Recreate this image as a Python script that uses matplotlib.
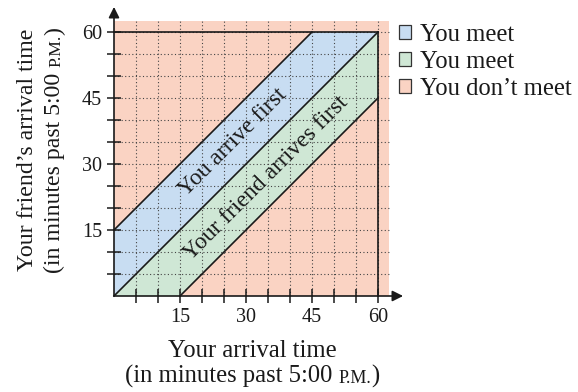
import matplotlib
matplotlib.use('Agg')
import matplotlib.pyplot as plt
from matplotlib.patches import Polygon, Patch, Rectangle

plt.rcParams['font.family'] = ['Liberation Serif', 'DejaVu Serif']

# ---- data ----
max_minutes = 60
wait_limit = 15
grid_step = 5
tick_labels = [15, 30, 45, 60]
legend_labels = ['You meet', 'You meet', 'You don\u2019t meet']
band_labels = ['You arrive first', 'Your friend arrives first']
band_colors = ['#C8DDF2', '#CFE7D5']
outside_color = '#FAD3C3'

W, H = 578, 392
fig = plt.figure(figsize=(W / 100, H / 100), dpi=100)
x0px, y0px, scale = 114, 296, 4.4
lo, hi = -2, 67
ax = fig.add_axes([(x0px + lo * scale) / W, (H - y0px + lo * scale) / H,
                   (hi - lo) * scale / W, (hi - lo) * scale / H])
ax.set_xlim(lo, hi)
ax.set_ylim(lo, hi)
for s in ax.spines.values():
    s.set_visible(False)
ax.patch.set_alpha(0)

ext = max_minutes + 2.6
# background (don't meet)
ax.add_patch(Rectangle((0, 0), ext, ext, facecolor=outside_color, edgecolor='none', zorder=0))
# You arrive first band
ax.add_patch(Polygon([(0, 0), (max_minutes, max_minutes), (max_minutes - wait_limit, max_minutes),
                      (0, wait_limit)], closed=True, facecolor=band_colors[0], edgecolor='none', zorder=0.5))
# friend arrives first band
ax.add_patch(Polygon([(0, 0), (wait_limit, 0), (max_minutes, max_minutes - wait_limit),
                      (max_minutes, max_minutes)], closed=True, facecolor=band_colors[1], edgecolor='none', zorder=0.5))

# dotted grid
grid_vals = list(range(grid_step, max_minutes + 1, grid_step))
for v in grid_vals:
    ax.plot([v, v], [0, ext], color='#444444', lw=0.8, ls=(0, (1, 2.2)), zorder=1)
    ax.plot([0, ext], [v, v], color='#444444', lw=0.8, ls=(0, (1, 2.2)), zorder=1)

# boundary lines
lk = dict(color='#1a1a1a', lw=1.2, zorder=2)
ax.plot([0, max_minutes], [max_minutes, max_minutes], **lk)
ax.plot([max_minutes, max_minutes], [0, max_minutes], **lk)
ax.plot([0, max_minutes - wait_limit], [wait_limit, max_minutes], **lk)
ax.plot([0, max_minutes], [0, max_minutes], **lk)
ax.plot([wait_limit, max_minutes], [0, max_minutes - wait_limit], **lk)

# axes with arrows
arr = dict(arrowstyle='-|>', lw=1.2, color='#1a1a1a', mutation_scale=16, shrinkA=0, shrinkB=0)
ax.annotate('', xy=(65.7, 0), xytext=(0, 0), arrowprops=arr, zorder=3)
ax.annotate('', xy=(0, 65.7), xytext=(0, 0), arrowprops=arr, zorder=3)

# ticks
ax.set_xticks(grid_vals)
ax.set_yticks(grid_vals)
ax.set_xticklabels([str(v) if v in tick_labels else '' for v in grid_vals])
ax.set_yticklabels([str(v) if v in tick_labels else '' for v in grid_vals])
ax.spines['bottom'].set_position(('data', 0))
ax.spines['left'].set_position(('data', 0))
ax.tick_params(direction='inout', length=10, width=1.1, color='#1a1a1a',
               labelsize=14.5, pad=3.5, labelcolor='#1a1a1a')

# band texts
ax.text(27, 35.0, band_labels[0], rotation=45, rotation_mode='anchor', ha='center', va='center',
        fontsize=17, color='#1a1a1a', zorder=4)
ax.text(34.5, 26.8, band_labels[1], rotation=45, rotation_mode='anchor', ha='center', va='center',
        fontsize=17, color='#1a1a1a', zorder=4)

# legend
handles = [Patch(facecolor=c, edgecolor='#333333', lw=0.9) for c in band_colors + [outside_color]]
leg = fig.legend(handles, legend_labels, loc='upper left', bbox_to_anchor=(399 / W, 1 - 24 / H),
                 frameon=False, fontsize=17.7, handlelength=0.5, handleheight=0.5,
                 handletextpad=0.35, labelspacing=0.2, borderpad=0, borderaxespad=0)
for t in leg.get_texts():
    t.set_color('#1a1a1a')

# axis labels
fig.text(252 / W, 1 - 357 / H, 'Your arrival time', ha='center', va='baseline', fontsize=17.7, color='#1a1a1a')
fig.text(33 / W, 1 - 150 / H, 'Your friend\u2019s arrival time', ha='center', va='baseline',
         rotation=90, rotation_mode='anchor', fontsize=17.2, color='#1a1a1a')

renderer = fig.canvas.get_renderer()


def pieced(x_px, y_px, pieces, rotation=0):
    texts, widths = [], []
    for s, size in pieces:
        t = fig.text(0, 0, s, fontsize=size, rotation=rotation, va='baseline', ha='left',
                     rotation_mode='anchor', color='#1a1a1a')
        bb = t.get_window_extent(renderer)
        widths.append(bb.width if rotation == 0 else bb.height)
        texts.append(t)
    pos = -sum(widths) / 2
    for t, w in zip(texts, widths):
        if rotation == 0:
            t.set_position(((x_px + pos) / W, (H - y_px) / H))
        else:
            t.set_position((x_px / W, (H - y_px + pos) / H))
        pos += w


pieced(252, 383, [('(in minutes past 5:00\u00a0', 17.7), ('P.M.', 13), (')', 17.7)])
pieced(60, 150, [('(in minutes past 5:00\u00a0', 17.2), ('P.M.', 12.6), (')', 17.2)], rotation=90)

fig.savefig('out.png', dpi=100)
